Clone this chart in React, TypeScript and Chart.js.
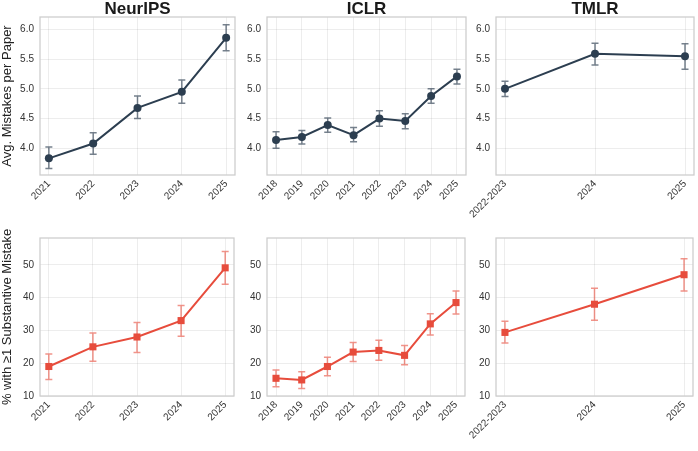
import React, { useEffect, useRef } from "react";
import { Chart, registerables } from "chart.js";

Chart.register(...registerables);

const neuripsYears = ["2021", "2022", "2023", "2024", "2025"];
const iclrYears = ["2018", "2019", "2020", "2021", "2022", "2023", "2024", "2025"];
const tmlrYears = ["2022-2023", "2024", "2025"];

const neuripsAvg = [3.83, 4.08, 4.68, 4.95, 5.86];
const neuripsAvgLo = [3.66, 3.9, 4.5, 4.76, 5.64];
const neuripsAvgHi = [4.02, 4.26, 4.88, 5.15, 6.08];
const iclrAvg = [4.14, 4.19, 4.39, 4.22, 4.5, 4.46, 4.88, 5.21];
const iclrAvgLo = [4.0, 4.07, 4.27, 4.11, 4.37, 4.33, 4.76, 5.08];
const iclrAvgHi = [4.28, 4.3, 4.51, 4.35, 4.63, 4.58, 5.0, 5.33];
const tmlrAvg = [5.0, 5.59, 5.55];
const tmlrAvgLo = [4.87, 5.4, 5.33];
const tmlrAvgHi = [5.13, 5.77, 5.76];

const neuripsPct = [19.0, 25.0, 28.0, 33.0, 49.1];
const neuripsPctLo = [15.0, 20.6, 23.3, 28.2, 44.1];
const neuripsPctHi = [22.8, 29.2, 32.4, 37.6, 54.1];
const iclrPct = [15.4, 14.9, 19.0, 23.4, 23.9, 22.4, 32.0, 38.5];
const iclrPctLo = [12.8, 12.3, 16.2, 20.5, 20.9, 19.5, 28.6, 35.0];
const iclrPctHi = [17.9, 17.4, 21.8, 26.3, 27.0, 25.4, 35.1, 42.0];
const tmlrPct = [29.4, 38.0, 47.0];
const tmlrPctLo = [26.2, 33.1, 42.0];
const tmlrPctHi = [32.8, 42.9, 51.9];

const avgTicks = [4.0, 4.5, 5.0, 5.5, 6.0];
const pctTicks = [10, 20, 30, 40, 50];

const FONT = "'Liberation Sans', Arial, Helvetica, sans-serif";
const NAVY = "#2c3e50";
const NAVY_ERR = "rgba(44,62,80,0.65)";
const RED = "#e74c3c";
const RED_ERR = "rgba(231,76,60,0.6)";

type PanelProps = {
  labels: string[];
  values: number[];
  lo: number[];
  hi: number[];
  title?: string;
  yTitle?: string;
  color: string;
  errColor: string;
  pointStyle: "circle" | "rect";
  radius: number;
  yMin: number;
  yMax: number;
  yTicks: number[];
  fmt: (v: number) => string;
  left: number;
  top: number;
  width: number;
  height: number;
  yAxisWidth: number;
  xAxisHeight: number;
  padTop: number;
};

function Panel(p: PanelProps) {
  const ref = useRef<HTMLCanvasElement | null>(null);
  useEffect(() => {
    if (!ref.current) return;
    const n = p.labels.length;
    const m = 0.05 * (n - 1);
    const errPlugin = {
      id: "errbars",
      beforeDatasetsDraw(chart: any) {
        const ctx = chart.ctx;
        const xs = chart.scales.x;
        const ys = chart.scales.y;
        ctx.save();
        ctx.strokeStyle = p.errColor;
        ctx.lineWidth = 1.5;
        p.values.forEach((_, i) => {
          const x = xs.getPixelForValue(i);
          const y1 = ys.getPixelForValue(p.lo[i]);
          const y2 = ys.getPixelForValue(p.hi[i]);
          ctx.beginPath();
          ctx.moveTo(x, y1);
          ctx.lineTo(x, y2);
          ctx.moveTo(x - 3.5, y1);
          ctx.lineTo(x + 3.5, y1);
          ctx.moveTo(x - 3.5, y2);
          ctx.lineTo(x + 3.5, y2);
          ctx.stroke();
        });
        ctx.restore();
      },
    };
    const borderPlugin = {
      id: "frame",
      afterDraw(chart: any) {
        const { left, top, right, bottom } = chart.chartArea;
        const ctx = chart.ctx;
        ctx.save();
        ctx.strokeStyle = "#cccccc";
        ctx.lineWidth = 1.25;
        ctx.strokeRect(left, top, right - left, bottom - top);
        ctx.restore();
      },
    };
    const chart = new Chart(ref.current, {
      type: "line",
      data: {
        datasets: [
          {
            data: p.values.map((v, i) => ({ x: i, y: v })),
            borderColor: p.color,
            backgroundColor: p.color,
            borderWidth: 2,
            pointStyle: p.pointStyle,
            pointRadius: p.radius,
            pointBorderWidth: 0,
            pointBackgroundColor: p.color,
            tension: 0,
          },
        ],
      },
      options: {
        responsive: false,
        animation: false,
        events: [],
        layout: { padding: { top: p.padTop, left: 0, right: 1, bottom: 0 } },
        plugins: {
          legend: { display: false },
          tooltip: { enabled: false },
          title: {
            display: !!p.title,
            text: p.title || "",
            fullSize: false,
            color: "#1a1a1a",
            font: { family: FONT, size: 17, weight: "bold", lineHeight: 16 / 17 },
            padding: { top: 1, bottom: 0 },
          },
        },
        scales: {
          x: {
            type: "linear",
            min: -m,
            max: n - 1 + m,
            afterBuildTicks: (s: any) => {
              s.ticks = p.labels.map((_, i) => ({ value: i }));
            },
            afterFit: (s: any) => {
              s.height = p.xAxisHeight;
            },
            ticks: {
              autoSkip: false,
              minRotation: 45,
              maxRotation: 45,
              padding: 3,
              color: "#333333",
              font: { family: FONT, size: 10 },
              callback: (v: any) => p.labels[Math.round(Number(v))] ?? "",
            },
            grid: { color: "rgba(0,0,0,0.07)", lineWidth: 1, drawTicks: false },
            border: { display: false },
          },
          y: {
            type: "linear",
            min: p.yMin,
            max: p.yMax,
            afterBuildTicks: (s: any) => {
              s.ticks = p.yTicks.map((v) => ({ value: v }));
            },
            afterFit: (s: any) => {
              s.width = p.yAxisWidth;
            },
            ticks: {
              padding: 6,
              color: "#333333",
              font: { family: FONT, size: 10 },
              callback: (v: any) => p.fmt(Number(v)),
            },
            grid: { color: "rgba(0,0,0,0.07)", lineWidth: 1, drawTicks: false },
            border: { display: false },
            title: {
              display: !!p.yTitle,
              text: p.yTitle || "",
              color: "#222222",
              font: { family: FONT, size: 13, lineHeight: 1.2 },
              padding: 0,
            },
          },
        },
      },
      plugins: [errPlugin, borderPlugin],
    } as any);
    return () => chart.destroy();
  }, []);
  return (
    <div
      style={{
        position: "absolute",
        left: p.left,
        top: p.top,
        width: p.width,
        height: p.height,
      }}
    >
      <canvas
        ref={ref}
        width={p.width}
        height={p.height}
        style={{ width: p.width, height: p.height, display: "block" }}
      />
    </div>
  );
}

const fmt1 = (v: number) => v.toFixed(1);
const fmt0 = (v: number) => String(Math.round(v));

export default function App() {
  const top = { top: 0, height: 228, xAxisHeight: 53, padTop: 0, yMin: 3.55, yMax: 6.21, yTicks: avgTicks, fmt: fmt1, color: NAVY, errColor: NAVY_ERR, pointStyle: "circle" as const, radius: 4 };
  const bot = { top: 223, height: 228, xAxisHeight: 55, padTop: 15, yMin: 10, yMax: 58.2, yTicks: pctTicks, fmt: fmt0, color: RED, errColor: RED_ERR, pointStyle: "rect" as const, radius: 5 };
  const c1 = { left: 0, width: 239, yAxisWidth: 40 };
  const c2 = { left: 222, width: 248, yAxisWidth: 45 };
  const c3 = { left: 451, width: 247, yAxisWidth: 45 };
  return (
    <div style={{ position: "absolute", left: 0, top: 0, width: 698, height: 451, background: "#ffffff", overflow: "hidden" }}>
      <Panel {...top} {...c1} title="NeurIPS" yTitle="Avg. Mistakes per Paper" labels={neuripsYears} values={neuripsAvg} lo={neuripsAvgLo} hi={neuripsAvgHi} />
      <Panel {...top} {...c2} title="ICLR" labels={iclrYears} values={iclrAvg} lo={iclrAvgLo} hi={iclrAvgHi} />
      <Panel {...top} {...c3} title="TMLR" labels={tmlrYears} values={tmlrAvg} lo={tmlrAvgLo} hi={tmlrAvgHi} />
      <Panel {...bot} {...c1} yTitle="% with ≥1 Substantive Mistake" labels={neuripsYears} values={neuripsPct} lo={neuripsPctLo} hi={neuripsPctHi} />
      <Panel {...bot} {...c2} labels={iclrYears} values={iclrPct} lo={iclrPctLo} hi={iclrPctHi} />
      <Panel {...bot} {...c3} labels={tmlrYears} values={tmlrPct} lo={tmlrPctLo} hi={tmlrPctHi} />
    </div>
  );
}
